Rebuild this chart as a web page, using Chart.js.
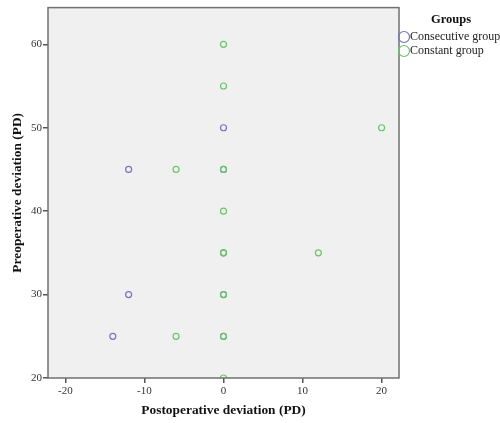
<!DOCTYPE html>
<html>
<head>
<meta charset="utf-8">
<script src="https://cdn.jsdelivr.net/npm/chart.js@4"></script>
<style>
  html, body { margin: 0; padding: 0; background: #fff; }
  #wrap { width: 500px; height: 423px; position: relative; }
</style>
</head>
<body>
<div id="wrap"><canvas id="scatterChart" width="500" height="423"></canvas></div>
<script>
// Data (postoperative x, preoperative y)
const consecutiveX = [0, -12, -12, -14, 0, 0, 0, 0];
const consecutiveY = [50, 45, 30, 25, 45, 35, 30, 25];
const constantX = [0, 0, -6, 0, 0, 0, 12, 0, 0, -6, 20, 0];
const constantY = [60, 55, 45, 45, 40, 35, 35, 30, 25, 25, 50, 20];

const groupNames = ['Consecutive group', 'Constant group'];
const groupColors = ['#7474c2', '#6cc46c'];
const legendTitle = 'Groups';

const toPoints = (xs, ys) => xs.map((x, i) => ({ x: x, y: ys[i] }));

// plot frame + grey background
const framePlugin = {
    id: 'frame',
    beforeDatasetsDraw(chart) {
        const { ctx, chartArea: a } = chart;
        ctx.save();
        ctx.fillStyle = '#f0f0f0';
        ctx.fillRect(a.left, a.top, a.right - a.left, a.bottom - a.top);
        ctx.restore();
    },
    afterDraw(chart) {
        const { ctx, chartArea: a } = chart;
        ctx.save();
        ctx.strokeStyle = '#707070';
        ctx.lineWidth = 1.5;
        ctx.strokeRect(a.left, a.top, a.right - a.left, a.bottom - a.top);
        ctx.restore();
    }
};

// SPSS-style legend on the right
const groupLegend = {
    id: 'groupLegend',
    afterDraw(chart) {
        const ctx = chart.ctx;
        ctx.save();
        ctx.fillStyle = '#111';
        ctx.font = "bold 12.5px 'Liberation Serif'";
        ctx.textAlign = 'center';
        ctx.textBaseline = 'middle';
        ctx.fillText(legendTitle, 451, 20);
        ctx.font = "12px 'Liberation Serif'";
        ctx.textAlign = 'left';
        groupNames.forEach((name, i) => {
            const y = 37 + i * 14;
            ctx.strokeStyle = groupColors[i];
            ctx.lineWidth = 1.2;
            ctx.beginPath();
            ctx.arc(404, y, 5.5, 0, Math.PI * 2);
            ctx.stroke();
            ctx.fillStyle = '#222';
            ctx.fillText(name, 410, y);
        });
        ctx.restore();
    }
};

new Chart(document.getElementById('scatterChart'), {
    type: 'scatter',
    data: {
        datasets: [
            {
                label: groupNames[0],
                data: toPoints(consecutiveX, consecutiveY),
                borderColor: groupColors[0],
                backgroundColor: 'rgba(0,0,0,0)',
                borderWidth: 1.2,
                pointRadius: 3,
                clip: 0,
                order: 1
            },
            {
                label: groupNames[1],
                data: toPoints(constantX, constantY),
                borderColor: groupColors[1],
                backgroundColor: 'rgba(0,0,0,0)',
                borderWidth: 1.2,
                pointRadius: 3,
                clip: 0,
                order: 0
            }
        ]
    },
    options: {
        responsive: false,
        animation: false,
        layout: { padding: { left: 0, top: 7, right: 101, bottom: 0 } },
        scales: {
            x: {
                type: 'linear',
                min: -22.2,
                max: 22.2,
                afterFit: s => { s.height = 45; },
                ticks: {
                    stepSize: 10,
                    includeBounds: false,
                    color: '#333',
                    padding: 2,
                    font: { family: "'Liberation Serif'", size: 11 }
                },
                grid: { drawOnChartArea: false, drawTicks: true, tickLength: 5, color: '#555', lineWidth: 1.5 },
                border: { display: false },
                title: {
                    display: true,
                    text: 'Postoperative deviation (PD)',
                    color: '#111',
                    padding: { top: 0, bottom: 4 },
                    font: { family: "'Liberation Serif'", size: 13.4, weight: 'bold' }
                }
            },
            y: {
                type: 'linear',
                min: 20,
                max: 64.4,
                afterFit: s => { s.width = 48; },
                ticks: {
                    stepSize: 10,
                    includeBounds: false,
                    color: '#333',
                    padding: 1,
                    font: { family: "'Liberation Serif'", size: 11 }
                },
                grid: { drawOnChartArea: false, drawTicks: true, tickLength: 5, color: '#555', lineWidth: 1.5 },
                border: { display: false },
                title: {
                    display: true,
                    text: 'Preoperative deviation (PD)',
                    color: '#111',
                    padding: { top: 10, bottom: 0 },
                    font: { family: "'Liberation Serif'", size: 13.4, weight: 'bold' }
                }
            }
        },
        plugins: {
            legend: { display: false },
            tooltip: { enabled: false }
        }
    },
    plugins: [framePlugin, groupLegend]
});
</script>
</body>
</html>
